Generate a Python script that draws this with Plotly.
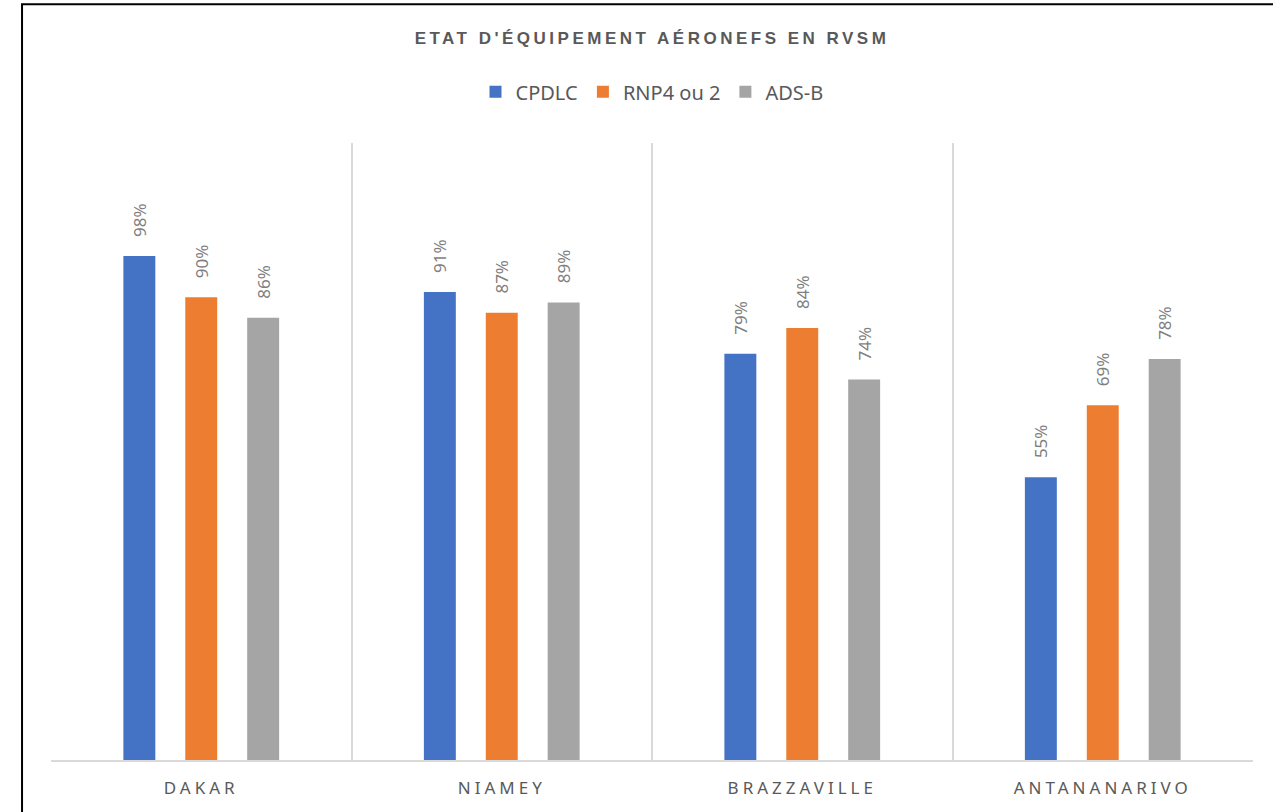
import plotly.graph_objects as go

categories = ["DAKAR", "NIAMEY", "BRAZZAVILLE", "ANTANANARIVO"]
series_names = ["CPDLC", "RNP4 ou 2", "ADS-B"]
cpdlc = [0.98, 0.91, 0.79, 0.55]
rnp4 = [0.90, 0.87, 0.84, 0.69]
adsb = [0.86, 0.89, 0.74, 0.78]
series_values = [cpdlc, rnp4, adsb]
colors = ["#4472C4", "#ED7D31", "#A5A5A5"]

title_text = "ETAT D'ÉQUIPEMENT AÉRONEFS EN RVSM"

fig = go.Figure()
for name, vals, col in zip(series_names, series_values, colors):
    fig.add_trace(go.Bar(
        x=categories, y=vals, name=name,
        marker=dict(color=col, line=dict(width=0)),
        texttemplate="\u00a0\u00a0\u00a0\u2009%{y:.0%}",
        textposition="outside",
        textangle=-90,
        constraintext="none",
        cliponaxis=False,
        textfont=dict(family="Noto Sans, sans-serif", size=17, color="#7F7F7F"),
    ))

fig.update_layout(
    width=1273, height=812,
    paper_bgcolor="white", plot_bgcolor="white",
    margin=dict(l=51, r=20, t=143, b=52),
    barmode="group", bargap=0.382, bargroupgap=0.484,
    title=dict(text=title_text, xref="paper", x=0.5, xanchor="center", y=1 - 38 / 812, yanchor="middle",
               font=dict(family="Liberation Sans, Arial, sans-serif", size=17, color="#595959", weight="bold")),
    legend=dict(orientation="h", x=0.5, xanchor="center", y=1.083, yanchor="middle",
                font=dict(family="Noto Sans, sans-serif", size=20, color="#595959"),
                itemclick=False, traceorder="normal"),
    showlegend=True,
    xaxis=dict(tickson="boundaries", showgrid=True, gridcolor="#D9D9D9", gridwidth=1.5,
               showline=True, linecolor="#D9D9D9", linewidth=1.5, ticks="",
               tickfont=dict(family="Noto Sans, sans-serif", size=17, color="#595959"),
               ticklabelstandoff=12),
    yaxis=dict(range=[0, 1.2], visible=False, showgrid=False, zeroline=False),
    shapes=[dict(type="rect", xref="paper", yref="paper", x0=-0.0241, x1=1.05, y0=-0.2, y1=1.225,
                 line=dict(color="#000000", width=2), fillcolor="rgba(0,0,0,0)", layer="above")],
)

post = """
document.body.style.margin = '0';
var gd = document.getElementById('{plot_id}');
function ls(){
  gd.querySelectorAll('.gtitle').forEach(function(e){e.style.letterSpacing='3.5px';});
  gd.querySelectorAll('.xtick text').forEach(function(e){e.style.letterSpacing='4px';});
}
ls();
gd.on('plotly_afterplot', ls);
"""

fig.write_html("out.html", post_script=post, config={"displayModeBar": False})
